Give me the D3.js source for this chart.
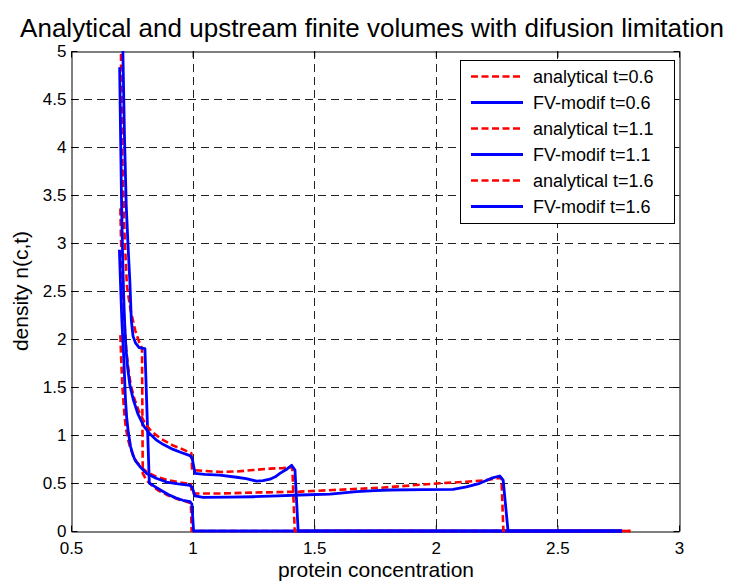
<!DOCTYPE html>
<html>
<head>
<meta charset="utf-8">
<script src="https://cdn.jsdelivr.net/npm/d3@7"></script>
<style>
  html, body { margin: 0; padding: 0; background: #fff; }
  svg { display: block; }
  text { font-family: "Liberation Sans", Arial, sans-serif; fill: #000; }
</style>
</head>
<body>
<svg id="chart" width="731" height="582"></svg>
<script>
// ---- data ----
const titleText = "Analytical and upstream finite volumes with difusion limitation";
const xLabelText = "protein concentration";
const yLabelText = "density n(c,t)";
const xTicks = [0.5, 1, 1.5, 2, 2.5, 3];
const yTicks = [0, 0.5, 1, 1.5, 2, 2.5, 3, 3.5, 4, 4.5, 5];
const legendLabels = ["analytical t=0.6", "FV-modif t=0.6", "analytical t=1.1",
                      "FV-modif t=1.1", "analytical t=1.6", "FV-modif t=1.6"];

const anaT06 = [[0.702,6.5],[0.706,4.8],[0.712,3.8],[0.72,3.1],[0.73,2.55],[0.745,2.3],
  [0.764,2.09],[0.78,1.97],[0.792,1.9],[0.795,0.6],[0.81,0.53],[0.83,0.48],[0.86,0.42],
  [0.9,0.37],[0.94,0.33],[0.97,0.31],[0.993,0.29],[0.996,0],[2.8,0]];
const fvT06 = [[0.703,7],[0.709,5.6],[0.714,4.9],[0.72,4.1],[0.727,3.4],[0.735,2.95],
  [0.742,2.6],[0.748,2.2],[0.755,2.03],[0.765,1.96],[0.78,1.91],[0.804,1.9],[0.822,0.5],
  [0.84,0.47],[0.866,0.43],[0.9,0.38],[0.93,0.345],[0.96,0.32],[0.99,0.305],[0.997,0.28],
  [1.004,0],[2.765,0]];
const anaT11 = [[0.703,3.36],[0.706,3.0],[0.71,2.7],[0.715,2.4],[0.72,2.15],[0.727,1.9],
  [0.735,1.7],[0.745,1.53],[0.76,1.38],[0.78,1.24],[0.805,1.12],[0.83,1.04],[0.87,0.96],
  [0.92,0.89],[0.96,0.85],[0.995,0.81],[0.998,0.635],[1.05,0.625],[1.12,0.615],[1.18,0.62],
  [1.25,0.635],[1.318,0.65],[1.372,0.655],[1.41,0.665],[1.42,0],[2.8,0]];
const fvT11 = [[0.700,4.83],[0.704,4.1],[0.708,3.4],[0.712,2.9],[0.716,2.5],[0.72,2.2],
  [0.726,1.9],[0.733,1.7],[0.742,1.52],[0.756,1.37],[0.775,1.22],[0.8,1.09],[0.825,1.01],
  [0.85,0.95],[0.88,0.9],[0.92,0.85],[0.95,0.82],[0.989,0.785],[0.998,0.76],[1.01,0.6],
  [1.05,0.59],[1.112,0.583],[1.181,0.56],[1.22,0.545],[1.263,0.52],[1.29,0.525],[1.318,0.54],
  [1.34,0.565],[1.359,0.6],[1.385,0.64],[1.407,0.685],[1.421,0.635],[1.434,0],[2.765,0]];
const anaT16 = [[0.703,2.04],[0.707,1.75],[0.711,1.52],[0.715,1.37],[0.72,1.2],[0.726,1.07],
  [0.733,0.97],[0.742,0.88],[0.755,0.79],[0.77,0.72],[0.79,0.66],[0.815,0.61],[0.85,0.565],
  [0.9,0.53],[0.95,0.505],[0.993,0.49],[0.997,0.39],[1.1,0.39],[1.25,0.4],[1.441,0.41],
  [1.578,0.427],[1.77,0.45],[2.017,0.497],[2.126,0.513],[2.208,0.53],[2.256,0.55],[2.27,0.55],
  [2.278,0],[2.8,0]];
const fvT16 = [[0.699,2.93],[0.704,2.55],[0.709,2.2],[0.714,1.95],[0.718,1.75],[0.721,1.55],
  [0.724,1.37],[0.729,1.18],[0.736,1.02],[0.745,0.88],[0.755,0.79],[0.765,0.73],[0.784,0.67],
  [0.811,0.6],[0.85,0.55],[0.893,0.51],[0.94,0.49],[0.989,0.475],[0.998,0.455],[1.01,0.365],
  [1.043,0.35],[1.15,0.352],[1.25,0.357],[1.35,0.365],[1.441,0.375],[1.565,0.385],[1.674,0.41],
  [1.75,0.42],[1.811,0.427],[1.95,0.43],[2.071,0.434],[2.126,0.46],[2.181,0.497],[2.229,0.55],
  [2.263,0.573],[2.277,0.53],[2.297,0],[2.765,0]];

const seriesData = [anaT06, fvT06, anaT11, fvT11, anaT16, fvT16];
const seriesKind = ["ana", "fv", "ana", "fv", "ana", "fv"];

// ---- layout ----
const L = 71, R = 679, T = 51, B = 531;
const svg = d3.select("#chart");
svg.append("rect").attr("width", 731).attr("height", 582).attr("fill", "#fff");

const x = d3.scaleLinear().domain([0.5, 3]).range([L, R]);
const y = d3.scaleLinear().domain([0, 5]).range([B, T]);

const styles = {
  ana: { color: "#ff0000", dash: "7,3.5", width: 2.6 },
  fv:  { color: "#0000ff", dash: null, width: 2.8 }
};

// grid
const grid = svg.append("g");
grid.selectAll("line.gx").data(xTicks.slice(1, -1)).join("line")
  .attr("x1", d => Math.round(x(d)) + 0.5).attr("x2", d => Math.round(x(d)) + 0.5)
  .attr("y1", T).attr("y2", B)
  .attr("stroke", "#222").attr("stroke-width", 1).attr("stroke-dasharray", "8,5");
grid.selectAll("line.gy").data(yTicks.slice(1, -1)).join("line")
  .attr("y1", d => Math.round(y(d)) + 0.5).attr("y2", d => Math.round(y(d)) + 0.5)
  .attr("x1", L).attr("x2", R)
  .attr("stroke", "#222").attr("stroke-width", 1).attr("stroke-dasharray", "8,5");

// axes (bottom/left with labels, top/right ticks only, all inward)
const tl = 6;
const axB = svg.append("g").attr("transform", `translate(0,${B + 0.5})`)
  .call(d3.axisBottom(x).tickValues(xTicks).tickFormat(d3.format("")).tickSizeInner(-tl).tickSizeOuter(0).tickPadding(11));
const axL = svg.append("g").attr("transform", `translate(${L + 0.5},0)`)
  .call(d3.axisLeft(y).tickValues(yTicks).tickFormat(d3.format("")).tickSizeInner(-tl).tickSizeOuter(0).tickPadding(11));
const axT = svg.append("g").attr("transform", `translate(0,${T + 0.5})`)
  .call(d3.axisTop(x).tickValues(xTicks).tickFormat("").tickSizeInner(-tl).tickSizeOuter(0));
const axR = svg.append("g").attr("transform", `translate(${R + 0.5},0)`)
  .call(d3.axisRight(y).tickValues(yTicks).tickFormat("").tickSizeInner(-tl).tickSizeOuter(0));
[axB, axL, axT, axR].forEach(a => {
  a.select(".domain").attr("stroke", "#000").attr("stroke-width", 1);
  a.selectAll(".tick line").attr("stroke", "#000").attr("stroke-width", 1);
  a.selectAll("text").style("font-family", '"Liberation Sans", Arial, sans-serif')
    .style("font-size", "17px").attr("fill", "#000");
});
axL.selectAll(".tick text").attr("x", -5);
axB.selectAll(".tick text").attr("y", 10);

// clip for data lines
svg.append("clipPath").attr("id", "plotclip").append("rect")
  .attr("x", L - 3).attr("y", T).attr("width", R - L + 6).attr("height", B - T + 3);

const line = d3.line().x(d => x(d[0])).y(d => y(d[1]));
const lines = svg.append("g").attr("clip-path", "url(#plotclip)");
seriesData.forEach((s, i) => {
  const st = styles[seriesKind[i]];
  lines.append("path").attr("d", line(s)).attr("fill", "none")
    .attr("stroke", st.color).attr("stroke-width", st.width)
    .attr("stroke-dasharray", st.dash).attr("stroke-linejoin", "round");
});

// legend
const lg = svg.append("g");
lg.append("rect").attr("x", 460.5).attr("y", 60.5).attr("width", 214).attr("height", 163)
  .attr("fill", "#fff").attr("stroke", "#000").attr("stroke-width", 1);
legendLabels.forEach((lab, i) => {
  const st = styles[seriesKind[i]];
  const cy = 76.5 + i * 26;
  lg.append("line").attr("x1", 471).attr("x2", 523).attr("y1", cy).attr("y2", cy)
    .attr("stroke", st.color).attr("stroke-width", st.width).attr("stroke-dasharray", st.dash);
  lg.append("text").attr("x", 533).attr("y", cy + 6.5).style("font-size", "18px").text(lab);
});

// title and labels
svg.append("text").attr("x", 372).attr("y", 37).attr("text-anchor", "middle")
  .style("font-size", "26px").text(titleText);
svg.append("text").attr("x", 376).attr("y", 577).attr("text-anchor", "middle")
  .style("font-size", "21px").text(xLabelText);
svg.append("text").attr("transform", "translate(28,291) rotate(-90)").attr("text-anchor", "middle")
  .style("font-size", "21px").text(yLabelText);
</script>
</body>
</html>
